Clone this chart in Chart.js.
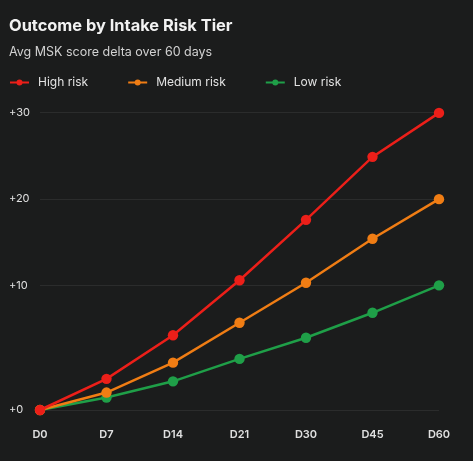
<!DOCTYPE html>
<html>
<head>
<meta charset="utf-8">
<script src="https://cdn.jsdelivr.net/npm/chart.js@4.4.1/dist/chart.umd.min.js"></script>
<style>
  html, body { margin: 0; padding: 0; background: #1b1c1c; overflow: hidden; }
  canvas { display: block; }
</style>
</head>
<body>
<canvas id="riskChart" width="473" height="461"></canvas>
<script>
// data
const days = ["D0", "D7", "D14", "D21", "D30", "D45", "D60"];
const highRisk = [0, 2.5, 6.0, 10.6, 17.6, 24.9, 30];
const mediumRisk = [0, 1.4, 3.8, 7.0, 10.3, 15.4, 20];
const lowRisk = [0, 1.0, 2.3, 4.1, 5.8, 7.8, 10];
const yTicks = [0, 10, 20, 30];

const colors = { high: "#ec1f19", medium: "#f07d14", low: "#1f9f48" };

// the source axis gives the 0..10 band more room than 10..30
const SPLIT = 10, LOW_STRETCH = 1.445;
const warp = v => v <= SPLIT ? v * LOW_STRETCH : SPLIT * LOW_STRETCH + (v - SPLIT);
const unwarp = w => w <= SPLIT * LOW_STRETCH ? w / LOW_STRETCH : w - SPLIT * LOW_STRETCH + SPLIT;

class SplitScale extends Chart.LinearScale {
  getPixelForValue(v) {
    const lo = warp(this.min), hi = warp(this.max);
    return this.getPixelForDecimal((warp(v) - lo) / (hi - lo));
  }
  getValueForPixel(p) {
    const lo = warp(this.min), hi = warp(this.max);
    return unwarp(lo + this.getDecimalForPixel(p) * (hi - lo));
  }
}
SplitScale.id = "split";
SplitScale.defaults = Chart.LinearScale.defaults;
Chart.register(SplitScale);

// legend row: line + dot swatch, then label (drawn under the subtitle)
const lineLegend = {
  id: "lineLegend",
  afterDraw(chart) {
    const g = chart.ctx;
    const y = 82.5;
    let x = 10;
    g.save();
    g.font = "12px Inter";
    g.textBaseline = "middle";
    g.textAlign = "left";
    chart.data.datasets.forEach(ds => {
      g.strokeStyle = ds.borderColor;
      g.lineWidth = 2;
      g.beginPath(); g.moveTo(x, y); g.lineTo(x + 19, y); g.stroke();
      g.fillStyle = ds.borderColor;
      g.beginPath(); g.arc(x + 9.5, y, 3, 0, Math.PI * 2); g.fill();
      g.fillStyle = "#e2e2e2";
      g.fillText(ds.label, x + 28, y);
      x += 28 + g.measureText(ds.label).width + 40;
    });
    g.restore();
  }
};

function series(label, data, color) {
  return {
    label: label,
    data: data,
    borderColor: color,
    backgroundColor: color,
    borderWidth: 2.5,
    pointRadius: 5.2,
    pointHoverRadius: 5.2,
    pointBorderWidth: 0,
    tension: 0,
    clip: false
  };
}

const ctx = document.getElementById("riskChart").getContext("2d");
new Chart(ctx, {
  type: "line",
  data: {
    labels: days,
    datasets: [
      series("High risk", highRisk, colors.high),
      series("Medium risk", mediumRisk, colors.medium),
      series("Low risk", lowRisk, colors.low)
    ]
  },
  plugins: [lineLegend],
  options: {
    responsive: false,
    devicePixelRatio: 1,
    animation: false,
    // x tick padding counts twice in the axis height
    layout: { padding: { left: 9, right: 34, top: 0, bottom: 1 } },
    plugins: {
      title: {
        display: true,
        text: "Outcome by Intake Risk Tier",
        align: "start",
        color: "#f2f2f2",
        font: { family: "Inter", size: 16.4, weight: "bold" },
        padding: { top: 16, bottom: 3 }
      },
      subtitle: {
        display: true,
        text: "Avg MSK score delta over 60 days",
        align: "start",
        color: "#d2d2d2",
        font: { family: "Inter", size: 12.5 },
        padding: { top: 5.7, bottom: 53.5 }
      },
      legend: { display: false },
      tooltip: { enabled: false }
    },
    scales: {
      x: {
        offset: false,
        grid: { display: false, drawTicks: false },
        border: { display: false },
        ticks: {
          color: "#e0e0e0",
          font: { family: "Inter", size: 11, weight: "600" },
          padding: 18.4,
          maxRotation: 0
        }
      },
      y: {
        type: "split",
        min: 0,
        max: 30,
        afterBuildTicks: scale => { scale.ticks = yTicks.map(v => ({ value: v })); },
        afterFit: scale => { scale.width = 31; },
        grid: { color: "rgba(255,255,255,0.07)", drawTicks: false, lineWidth: 1 },
        border: { display: false },
        ticks: {
          color: "#e0e0e0",
          font: { family: "Inter", size: 11 },
          crossAlign: "far",
          padding: 0,
          callback: v => "+" + v
        }
      }
    }
  }
});
</script>
</body>
</html>
